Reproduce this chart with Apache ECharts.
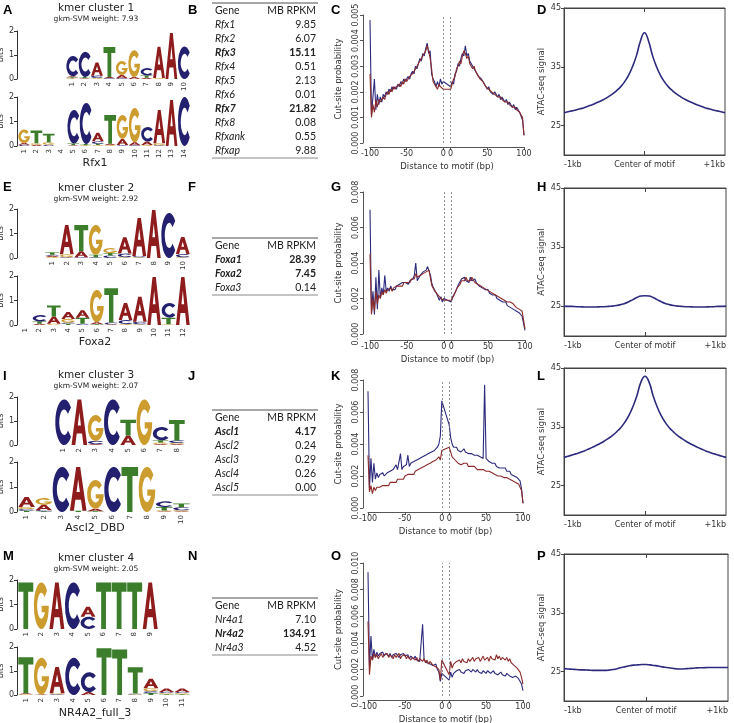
<!DOCTYPE html>
<html>
<head>
<meta charset="utf-8">
<script src="https://cdn.jsdelivr.net/npm/echarts@6.0.0/dist/echarts.min.js"></script>
<style>
  html, body { margin: 0; padding: 0; background: #fff; }
  #main { width: 734px; height: 723px; }
</style>
</head>
<body>
<div id="main"></div>
<script>
// ---------- text ----------
const panelLetters = [['A', 'B', 'C', 'D'], ['E', 'F', 'G', 'H'], ['I', 'J', 'K', 'L'], ['M', 'N', 'O', 'P']];
const clusterTitles = ['kmer cluster 1', 'kmer cluster 2', 'kmer cluster 3', 'kmer cluster 4'];
const svmWeights = ['7.93', '2.92', '2.07', '2.05'];
const motifNames = ['Rfx1', 'Foxa2', 'Ascl2_DBD', 'NR4A2_full_3'];

// ---------- tables ----------
const rfxGenes = ['Rfx1', 'Rfx2', 'Rfx3', 'Rfx4', 'Rfx5', 'Rfx6', 'Rfx7', 'Rfx8', 'Rfxank', 'Rfxap'];
const rfxRpkm = ['9.85', '6.07', '15.11', '0.51', '2.13', '0.01', '21.82', '0.08', '0.55', '9.88'];
const rfxBold = ['Rfx3', 'Rfx7'];
const foxGenes = ['Foxa1', 'Foxa2', 'Foxa3'];
const foxRpkm = ['28.39', '7.45', '0.14'];
const foxBold = ['Foxa1', 'Foxa2'];
const asclGenes = ['Ascl1', 'Ascl2', 'Ascl3', 'Ascl4', 'Ascl5'];
const asclRpkm = ['4.17', '0.24', '0.29', '0.26', '0.00'];
const asclBold = ['Ascl1'];
const nr4aGenes = ['Nr4a1', 'Nr4a2', 'Nr4a3'];
const nr4aRpkm = ['7.10', '134.91', '4.52'];
const nr4aBold = ['Nr4a2'];

// ---------- sequence logos: per position, [base, bits] from bottom to top ----------
const logoKmer1 = [
  [['G', 0.03], ['T', 0.04], ['A', 0.04], ['C', 0.85]],
  [['A', 0.03], ['T', 0.05], ['C', 1.05]],
  [['G', 0.04], ['C', 0.1], ['A', 0.55]],
  [['C', 0.03], ['A', 0.05], ['T', 1.25]],
  [['C', 0.03], ['A', 0.14], ['G', 0.58]],
  [['A', 0.08], ['G', 1.12]],
  [['A', 0.05], ['T', 0.1], ['C', 0.3]],
  [['G', 0.04], ['A', 1.3]],
  [['A', 1.92]],
  [['C', 1.35]]
];
const logoRfx1 = [
  [['C', 0.05], ['A', 0.07], ['G', 0.55]],
  [['A', 0.05], ['G', 0.06], ['T', 0.52]],
  [['C', 0.05], ['G', 0.1], ['T', 0.35]],
  [],
  [['A', 0.03], ['T', 0.07], ['C', 1.37]],
  [['G', 0.03], ['T', 0.05], ['C', 1.68]],
  [['G', 0.04], ['T', 0.05], ['C', 0.1], ['A', 0.35]],
  [['G', 0.04], ['A', 0.05], ['T', 1.18]],
  [['C', 0.04], ['A', 0.25], ['G', 0.98]],
  [['C', 0.03], ['A', 0.12], ['G', 1.4]],
  [['G', 0.04], ['A', 0.14], ['C', 0.6]],
  [['C', 0.03], ['G', 0.08], ['A', 1.36]],
  [['A', 1.88]],
  [['C', 2.0]]
];
const logoKmer2 = [
  [['G', 0.04], ['A', 0.05], ['C', 0.04], ['T', 0.1]],
  [['C', 0.03], ['G', 0.12], ['A', 1.2]],
  [['C', 0.03], ['A', 0.25], ['T', 1.07]],
  [['C', 0.03], ['T', 0.1], ['G', 1.22]],
  [['C', 0.1], ['T', 0.1], ['G', 0.2]],
  [['G', 0.03], ['C', 0.15], ['A', 0.67]],
  [['G', 0.03], ['C', 0.05], ['A', 1.55]],
  [['A', 1.96]],
  [['C', 1.84]],
  [['G', 0.03], ['C', 0.13], ['A', 0.7]]
];
const logoFoxa2 = [
  [],
  [['A', 0.05], ['T', 0.1], ['C', 0.25]],
  [['G', 0.05], ['A', 0.3], ['T', 0.45]],
  [['T', 0.05], ['C', 0.05], ['G', 0.15], ['A', 0.28]],
  [['C', 0.05], ['T', 0.25], ['A', 0.3]],
  [['T', 0.03], ['A', 0.08], ['G', 1.32]],
  [['A', 0.03], ['C', 0.07], ['T', 1.4]],
  [['G', 0.04], ['C', 0.16], ['A', 0.7]],
  [['G', 0.03], ['C', 0.1], ['A', 1.02]],
  [['A', 1.96]],
  [['G', 0.03], ['T', 0.27], ['C', 0.6]],
  [['A', 1.96]]
];
const logoKmer3 = [
  [['C', 1.9]],
  [['A', 1.9]],
  [['A', 0.04], ['C', 0.13], ['G', 1.08]],
  [['C', 1.9]],
  [['A', 0.4], ['T', 0.65]],
  [['G', 1.9]],
  [['A', 0.04], ['G', 0.06], ['T', 0.1], ['C', 0.55]],
  [['A', 0.04], ['G', 0.05], ['C', 0.1], ['T', 0.85]]
];
const logoAscl2 = [
  [['T', 0.05], ['C', 0.07], ['G', 0.08], ['A', 0.4]],
  [['T', 0.03], ['C', 0.04], ['A', 0.22], ['G', 0.26]],
  [['C', 1.8]],
  [['T', 0.05], ['A', 1.75]],
  [['T', 0.03], ['A', 0.1], ['G', 1.15]],
  [['C', 1.8]],
  [['T', 1.8]],
  [['G', 1.8]],
  [['A', 0.03], ['G', 0.03], ['T', 0.14], ['C', 0.22]],
  [['A', 0.03], ['G', 0.04], ['C', 0.12], ['T', 0.15]]
];
const logoKmer4 = [
  [['T', 1.9]],
  [['G', 1.9]],
  [['A', 1.9]],
  [['C', 1.9]],
  [['C', 0.5], ['A', 0.41]],
  [['T', 1.9]],
  [['T', 1.9]],
  [['T', 1.9]],
  [['A', 1.9]]
];
const logoNr4a2 = [
  [['G', 0.03], ['A', 0.04], ['T', 1.5]],
  [['A', 0.02], ['G', 1.53]],
  [['C', 0.03], ['G', 0.04], ['A', 1.1]],
  [['C', 1.55]],
  [['A', 0.12], ['C', 0.83]],
  [['T', 1.95]],
  [['T', 1.9]],
  [['G', 0.03], ['C', 0.03], ['T', 1.1]],
  [['T', 0.08], ['C', 0.08], ['G', 0.12], ['A', 0.4]],
  [['T', 0.03], ['G', 0.05], ['C', 0.05], ['A', 0.14]],
  [['T', 0.03], ['G', 0.05], ['C', 0.05], ['A', 0.14]]
];

// ---------- cut-site probability (x 1e-4), every 2 bp, flank -100..0 and 0..100 ----------
const cutRfxBlueL = [48,11,18,25,13,19,15,18,16,19,18,20,19,21,20,22,21,22,21,23,22,24,23,25,24,25,26,25,27,28,27,30,29,31,33,32,35,34,37,39,35,36,27,25,24,22,24,22,25,23,24];
const cutRfxRedL  = [27,10,15,12,17,14,17,16,17,18,17,19,20,19,21,20,22,21,22,22,23,22,24,23,25,24,25,26,26,27,28,28,30,30,32,33,33,35,36,38,36,33,29,24,23,23,21,23,22,22,21];
const cutRfxBlueR = [22,24,23,27,28,31,30,33,35,34,38,34,35,32,31,30,29,29,27,26,26,25,24,23,23,21,22,20,20,19,20,19,18,19,17,18,17,16,17,15,16,15,14,15,13,14,13,12,12,9,3];
const cutRfxRedR  = [21,23,25,26,29,30,32,31,34,36,35,33,34,31,30,29,30,28,27,27,25,25,24,24,22,22,21,21,20,20,19,19,18,18,18,17,17,16,16,16,15,15,14,14,14,13,13,12,12,10,3];

const cutFoxBlueL = [70,12,24,11,32,14,36,20,26,22,33,24,26,24,27,25,26,25,27,26,28,27,29,28,29,30,28,30,29,31,33,40,30,31,33,32,35,34,36,38,37,33,28,26,25,23,21,19,21,18,20];
const cutFoxRedL  = [45,11,20,13,24,17,22,20,24,22,25,23,25,24,26,24,26,25,27,26,27,28,27,29,28,29,30,29,31,30,31,34,32,31,33,32,34,33,35,34,36,31,27,26,24,24,22,21,20,21,19];
const cutFoxBlueR = [18,21,20,24,25,28,29,31,30,32,30,31,29,32,30,29,31,29,28,27,28,26,27,25,24,25,23,24,22,21,22,20,21,19,20,18,17,18,16,17,15,15,14,13,13,12,12,11,10,9,2];
const cutFoxRedR  = [19,20,22,23,26,27,28,30,31,30,32,30,31,30,32,31,29,30,28,28,27,27,26,26,25,24,24,23,23,22,22,21,21,20,20,20,19,19,18,18,18,17,17,16,15,15,14,14,13,12,3];

const cutAsclBlueL = [73,12,31,16,28,18,22,19,21,20,22,20,21,22,21,23,22,24,23,27,24,25,34,24,26,27,27,33,26,28,27,29,28,30,29,31,30,32,31,33,32,34,33,35,34,36,37,38,40,45,67];
const cutAsclRedL  = [33,10,14,9,13,11,13,12,13,12,14,13,14,15,14,16,15,16,17,16,18,17,18,19,18,20,19,21,20,21,22,21,23,22,24,23,25,24,26,25,27,26,28,27,29,30,30,31,32,30,36];
const cutAsclBlueR = [52,44,40,38,37,38,36,37,35,36,37,35,36,34,35,34,35,33,34,33,33,32,33,31,77,31,30,29,30,28,27,28,26,27,25,26,25,24,25,23,22,23,21,21,20,19,19,18,17,12,3];
const cutAsclRedR  = [38,35,32,31,30,29,28,29,27,28,28,27,28,26,27,26,25,26,25,24,25,24,23,24,23,23,22,23,22,22,22,21,21,20,21,20,20,19,20,19,18,18,17,17,17,16,16,15,15,11,3];

const cutNrBlueL = [93,22,45,27,35,29,33,30,32,31,33,30,32,31,30,32,29,31,30,32,31,29,31,30,32,30,29,31,28,30,29,28,30,27,28,26,27,54,27,26,25,26,24,25,23,22,24,20,18,11,17];
const cutNrRedL  = [56,16,30,27,32,29,31,28,30,32,29,31,30,32,29,31,30,28,31,29,30,32,28,30,29,31,28,30,29,27,29,28,27,29,26,28,27,26,28,25,27,24,26,25,23,24,22,23,20,12,27];
const cutNrBlueR = [12,18,14,17,16,19,18,20,18,19,17,19,18,20,19,18,20,19,18,20,18,19,17,19,18,17,19,18,17,18,19,17,18,16,17,18,16,17,15,17,16,15,16,14,15,15,14,13,12,9,4];
const cutNrRedR  = [16,26,21,24,23,26,25,27,25,28,26,27,25,28,26,27,29,26,28,27,29,26,28,30,27,28,29,26,30,28,29,27,31,28,30,27,29,28,27,29,26,28,25,24,23,22,21,20,18,14,9];

// ---------- ATAC-seq signal, -1kb..+1kb every 50 bp ----------
const atacRfx  = [27.2,27.35,27.5,27.65,27.85,28.05,28.3,28.55,28.85,29.15,29.5,29.9,30.35,30.9,31.55,32.4,33.5,35.0,36.9,39.4,40.8,39.4,36.9,35.0,33.5,32.4,31.55,30.9,30.35,29.9,29.5,29.15,28.85,28.55,28.3,28.05,27.85,27.65,27.5,27.35,27.2];
const atacFox  = [25.05,25.0,25.0,24.95,24.95,24.9,24.9,24.9,24.9,24.95,24.95,25.0,25.05,25.15,25.3,25.5,25.8,26.15,26.5,26.75,26.8,26.75,26.5,26.15,25.8,25.5,25.3,25.15,25.05,25.0,24.95,24.95,24.9,24.9,24.9,24.9,24.95,24.95,25.0,25.0,25.05];
const atacAscl = [29.8,30.0,30.2,30.4,30.65,30.9,31.2,31.5,31.85,32.2,32.6,33.05,33.55,34.15,34.85,35.75,36.9,38.4,40.3,42.6,43.6,42.6,40.3,38.4,36.9,35.75,34.85,34.15,33.55,33.05,32.6,32.2,31.85,31.5,31.2,30.9,30.65,30.4,30.2,30.0,29.8];
const atacNr   = [25.5,25.45,25.4,25.35,25.3,25.3,25.25,25.2,25.2,25.2,25.2,25.25,25.35,25.5,25.7,25.85,26.0,26.1,26.15,26.2,26.2,26.15,26.05,25.95,25.8,25.7,25.6,25.5,25.45,25.45,25.5,25.55,25.6,25.65,25.65,25.7,25.7,25.7,25.7,25.7,25.7];

// ---------- axis ticks ----------
const cutTickLabels = [-100, -50, 0, 0, 50, 100];
const atacTickLabels = ['-1kb', 'Center of motif', '+1kb'];
const atacYTicks = [25, 35, 45];

// ---------- styles ----------
const LETTERS = ['A', 'C', 'G', 'T'];
const LETTER_COLOR = { A: '#8e1c1c', C: '#23206f', G: '#cc9c2e', T: '#3b7d2a' };
const LETTER_PATH = {
  A: 'M0 100L38 0H62L100 100H76L67 75H33L24 100ZM40 57H60L50 28Z',
  C: 'M88.3 17.9A50 50 0 1 0 88.3 82.1L71.4 68A28 28 0 1 1 71.4 32Z',
  G: 'M88.3 17.9A50 50 0 1 0 100 50L52 50L52 64L74.2 64A28 28 0 1 1 71.4 32Z',
  T: 'M0 0H100V20H66V100H34V20H0Z'
};
const BLUE = '#2c2a7d';
const RED = '#8d2b2b';
const AXIS = '#555';
const FONT = 'DejaVu Sans';
const motifHalf = 5;

const flankLeft = [], flankRight = [];
for (let d = -100; d <= 0; d += 2) flankLeft.push(d);
for (let d = 0; d <= 100; d += 2) flankRight.push(d);
const atacX = [];
for (let d = -1000; d <= 1000; d += 50) atacX.push(d);

function logoData(stacks) {
  const out = [];
  stacks.forEach((stack, i) => {
    let y = 0;
    stack.forEach(([b, h]) => { out.push([i, y, y + h, LETTERS.indexOf(b)]); y += h; });
  });
  return out;
}

function logoRender(params, api) {
  const b = LETTERS[api.value(3)];
  const lo = api.coord([api.value(0), api.value(1)]);
  const hi = api.coord([api.value(0), api.value(2)]);
  const w = api.size([1, 0])[0];
  return {
    type: 'path',
    shape: { pathData: LETTER_PATH[b], x: lo[0] - w / 2 + 0.3, y: hi[1], width: w - 0.6, height: lo[1] - hi[1], layout: 'cover' },
    style: { fill: LETTER_COLOR[b] }
  };
}

function cutData(left, right) {
  const pts = [];
  left.forEach((v, i) => pts.push([flankLeft[i] - motifHalf, v / 1e4]));
  right.forEach((v, i) => pts.push([flankRight[i] + motifHalf, v / 1e4]));
  return pts;
}

const grids = [], xAxes = [], yAxes = [], series = [];

// logos
const logos = [
  { stacks: logoKmer1, box: [66, 31, 124, 48] },
  { stacks: logoRfx1, box: [18, 97, 172, 49] },
  { stacks: logoKmer2, box: [45, 209, 145, 49] },
  { stacks: logoFoxa2, box: [18, 276, 172, 49] },
  { stacks: logoKmer3, box: [55, 397, 130, 48] },
  { stacks: logoAscl2, box: [18, 462, 172, 50] },
  { stacks: logoKmer4, box: [18, 580, 140, 49] },
  { stacks: logoNr4a2, box: [18, 647, 172, 48] }
];
logos.forEach((lg) => {
  const gi = grids.length;
  const [l, t, w, h] = lg.box;
  grids.push({ left: l, top: t, width: w, height: h, outerBoundsMode: 'none' });
  xAxes.push({
    type: 'category', gridIndex: gi, data: lg.stacks.map((_, i) => String(i + 1)),
    axisLine: { show: false }, axisTick: { show: false },
    axisLabel: { rotate: 90, fontSize: 7, color: '#333', margin: 3, interval: 0 }
  });
  yAxes.push({
    type: 'value', gridIndex: gi, min: 0, max: 2, interval: 1, offset: l - 17,
    splitLine: { show: false },
    axisLine: { show: true, onZero: false, lineStyle: { color: '#333' } },
    axisTick: { show: true, length: 3, lineStyle: { color: '#333' } },
    axisLabel: { fontSize: 8, color: '#333', margin: 3 },
    name: 'bits', nameLocation: 'middle', nameGap: 11, nameTextStyle: { fontSize: 8, color: '#333' }
  });
  series.push({
    type: 'custom', xAxisIndex: gi, yAxisIndex: gi, renderItem: logoRender,
    data: logoData(lg.stacks), encode: { x: 0, y: [1, 2] }, silent: true
  });
});

// cut-site probability
const cutCharts = [
  { blue: cutData(cutRfxBlueL, cutRfxBlueR), red: cutData(cutRfxRedL, cutRfxRedR), max: 0.005, step: 0.001, box: [370, 15, 154, 128], xOff: 4, yOff: 7 },
  { blue: cutData(cutFoxBlueL, cutFoxBlueR), red: cutData(cutFoxRedL, cutFoxRedR), max: 0.008, step: 0.002, box: [370, 192, 155, 142], xOff: 6, yOff: 7 },
  { blue: cutData(cutAsclBlueL, cutAsclBlueR), red: cutData(cutAsclRedL, cutAsclRedR), max: 0.008, step: 0.002, box: [368, 380, 155, 128], xOff: 4, yOff: 5 },
  { blue: cutData(cutNrBlueL, cutNrBlueR), red: cutData(cutNrRedL, cutNrRedR), max: 0.010, step: 0.002, box: [368, 563, 155, 133], xOff: 4, yOff: 5 }
];
const cutTickPos = cutTickLabels.map((v, i) => (i < 3 ? v - motifHalf : v + motifHalf));
cutCharts.forEach((c) => {
  const gi = grids.length;
  const [l, t, w, h] = c.box;
  grids.push({ left: l, top: t, width: w, height: h, outerBoundsMode: 'none' });
  xAxes.push({
    type: 'value', gridIndex: gi, min: -100 - motifHalf, max: 100 + motifHalf, offset: c.xOff,
    splitLine: { show: false },
    axisLine: { show: true, onZero: false, lineStyle: { color: AXIS } },
    axisTick: { show: true, customValues: cutTickPos, length: 3, lineStyle: { color: AXIS } },
    axisLabel: {
      customValues: cutTickPos, fontSize: 8, color: '#333', margin: 3,
      formatter: (v) => String(cutTickLabels[cutTickPos.indexOf(v)])
    },
    name: 'Distance to motif (bp)', nameLocation: 'middle', nameGap: 15,
    nameTextStyle: { fontSize: 8.5, color: '#333' }
  });
  yAxes.push({
    type: 'value', gridIndex: gi, min: 0, max: c.max, interval: c.step, offset: c.yOff,
    splitLine: { show: false },
    axisLine: { show: true, onZero: false, lineStyle: { color: AXIS } },
    axisTick: { show: true, length: 3, lineStyle: { color: AXIS } },
    axisLabel: { rotate: 90, fontSize: 8, color: '#333', margin: 3, formatter: (v) => v.toFixed(3) },
    name: 'Cut-site probability', nameLocation: 'middle', nameGap: 20,
    nameTextStyle: { fontSize: 8.5, color: '#333' }
  });
  series.push({
    type: 'line', xAxisIndex: gi, yAxisIndex: gi, data: c.blue, showSymbol: false, silent: true,
    lineStyle: { color: BLUE, width: 1.1 },
    markLine: {
      silent: true, symbol: 'none', label: { show: false },
      lineStyle: { color: '#777', type: [2, 2], width: 0.8 },
      data: [{ xAxis: -motifHalf }, { xAxis: motifHalf }]
    }
  });
  series.push({
    type: 'line', xAxisIndex: gi, yAxisIndex: gi, data: c.red, showSymbol: false, silent: true,
    lineStyle: { color: RED, width: 1.1 }
  });
});

// ATAC-seq signal
const atacCharts = [
  { vals: atacRfx, box: [564, 8, 161, 147] },
  { vals: atacFox, box: [564, 188, 162, 148] },
  { vals: atacAscl, box: [564, 368, 162, 147] },
  { vals: atacNr, box: [564, 554, 164, 147] }
];
atacCharts.forEach((a) => {
  const gi = grids.length;
  const [l, t, w, h] = a.box;
  grids.push({ left: l, top: t, width: w, height: h, show: true, borderColor: '#444', borderWidth: 1, outerBoundsMode: 'none' });
  xAxes.push({
    type: 'value', gridIndex: gi, min: -1000, max: 1000,
    splitLine: { show: false },
    axisLine: { show: true, onZero: false, lineStyle: { color: '#444' } },
    axisTick: { show: true, inside: true, customValues: [0], length: 4, lineStyle: { color: '#444' } },
    axisLabel: {
      customValues: [-1000, 0, 1000], fontSize: 8, color: '#333', margin: 6,
      alignMinLabel: 'left', alignMaxLabel: 'right',
      formatter: (v) => atacTickLabels[[-1000, 0, 1000].indexOf(v)]
    }
  });
  yAxes.push({
    type: 'value', gridIndex: gi, min: 20, max: 45,
    splitLine: { show: false },
    axisLine: { show: true, onZero: false, lineStyle: { color: '#444' } },
    axisTick: { show: true, customValues: atacYTicks, length: 3, lineStyle: { color: '#444' } },
    axisLabel: { customValues: atacYTicks, fontSize: 8, color: '#333', margin: 3 },
    name: 'ATAC-seq signal', nameLocation: 'middle', nameGap: 18,
    nameTextStyle: { fontSize: 8.5, color: '#333' }
  });
  series.push({
    type: 'line', xAxisIndex: gi, yAxisIndex: gi, data: atacX.map((x, i) => [x, a.vals[i]]),
    showSymbol: false, smooth: true, silent: true, lineStyle: { color: BLUE, width: 1.6 }
  });
});
// top mirror axes for the ATAC frames (tick at motif centre)
atacCharts.forEach((a, k) => {
  xAxes.push({
    type: 'value', gridIndex: 12 + k, position: 'top', min: -1000, max: 1000,
    splitLine: { show: false }, axisLabel: { show: false },
    axisLine: { show: true, onZero: false, lineStyle: { color: '#444' } },
    axisTick: { show: true, inside: true, customValues: [0], length: 4, lineStyle: { color: '#444' } }
  });
});

// ---------- graphic text ----------
function txt(x, y, s, o) {
  const st = Object.assign({ text: s, fill: '#222', fontSize: 10, fontFamily: FONT, align: 'left', verticalAlign: 'middle' }, o || {});
  st.textAlign = st.align;
  st.textVerticalAlign = st.verticalAlign;
  return { type: 'text', x: x, y: y, silent: true, style: st };
}
function hline(x1, x2, y, color, lw) {
  return { type: 'line', silent: true, shape: { x1: x1, y1: y, x2: x2, y2: y }, style: { stroke: color, lineWidth: lw } };
}

const els = [];
const rowTop = [4, 181, 370, 550];
const colX = [3, 188, 331, 537];
panelLetters.forEach((row, r) => row.forEach((ch, c) => {
  els.push(txt(colX[c], rowTop[r], ch, { fontSize: 13, fontWeight: 'bold', fontFamily: 'Liberation Sans', fill: '#000', verticalAlign: 'top' }));
}));
const titleY = [8, 188, 375, 558];
const nameY = [163, 342, 528, 713];
clusterTitles.forEach((t, r) => {
  els.push(txt(96, titleY[r], t, { fontSize: 10.5, align: 'center' }));
  els.push(txt(96, titleY[r] + 11, 'gkm-SVM weight: ' + svmWeights[r], { fontSize: 7.5, align: 'center' }));
  els.push(txt(95, nameY[r], motifNames[r], { fontSize: 11, align: 'center' }));
});

function table(top, genes, vals, bold) {
  const x0 = 212, x1 = 318;
  const rowY = (i) => top + 8 + 14 * i;
  els.push(hline(x0, x1, top, '#8a8a8a', 1.5));
  els.push(txt(x0 + 3, rowY(0), 'Gene', { fontFamily: 'Lato', fontSize: 10.5 }));
  els.push(txt(x1 - 2, rowY(0), 'MB RPKM', { fontFamily: 'Lato', fontSize: 10.5, align: 'right' }));
  genes.forEach((g, i) => {
    const b = bold.indexOf(g) >= 0 ? 'bold' : 'normal';
    els.push(txt(x0 + 3, rowY(i + 1), g, { fontFamily: 'Lato', fontSize: 10.5, fontStyle: 'italic', fontWeight: b }));
    els.push(txt(x1 - 2, rowY(i + 1), vals[i], { fontFamily: 'Lato', fontSize: 10.5, fontWeight: b, align: 'right' }));
  });
  els.push(hline(x0, x1, rowY(genes.length) + 7, '#8a8a8a', 1));
}
table(3, rfxGenes, rfxRpkm, rfxBold);
table(238, foxGenes, foxRpkm, foxBold);
table(410, asclGenes, asclRpkm, asclBold);
table(598, nr4aGenes, nr4aRpkm, nr4aBold);

const chart = echarts.init(document.getElementById('main'), null, { renderer: 'canvas' });
chart.setOption({
  animation: false,
  backgroundColor: '#fff',
  textStyle: { fontFamily: FONT },
  grid: grids,
  xAxis: xAxes,
  yAxis: yAxes,
  series: series,
  graphic: { elements: els }
});
</script>
</body>
</html>
